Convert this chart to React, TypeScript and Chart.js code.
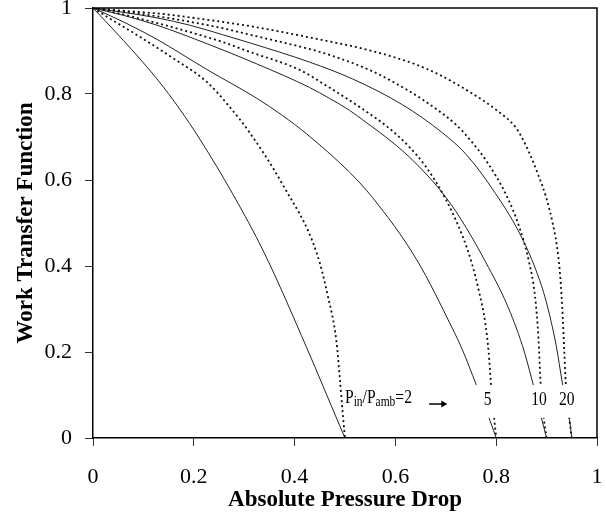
import React, { useEffect, useRef } from "react";
import { Chart, registerables } from "chart.js";

Chart.register(...registerables);

const FONT = "'Liberation Serif', 'Times New Roman', Times, serif";

const xTickValues = [0, 0.2, 0.4, 0.6, 0.8, 1];
const xTickLabels = ["0", "0.2", "0.4", "0.6", "0.8", "1"];
const yTickValues = [0, 0.2, 0.4, 0.6, 0.8, 1];
const yTickLabels = ["0", "0.2", "0.4", "0.6", "0.8", "1"];
const xTitle = "Absolute Pressure Drop";
const yTitle = "Work Transfer Function";
const ratioLabels = ["5", "10", "20"];

// Pin/Pamb = 2
const r2SolidX = [0, 0.06, 0.127, 0.172, 0.212, 0.277, 0.34, 0.424, 0.489, 0.5];
const r2SolidY = [1, 0.925, 0.835, 0.765, 0.695, 0.568, 0.43, 0.21, 0.03, 0];
const r2DotX = [0, 0.034, 0.093, 0.158, 0.226, 0.271, 0.311, 0.376, 0.444, 0.466, 0.483, 0.49, 0.496, 0.5];
const r2DotY = [1, 0.975, 0.933, 0.884, 0.828, 0.77, 0.71, 0.59, 0.43, 0.33, 0.225, 0.135, 0.05, 0];

// Pin/Pamb = 5
const r5SolidX = [0, 0.06, 0.127, 0.226, 0.325, 0.376, 0.423, 0.509, 0.554, 0.642, 0.713, 0.733, 0.76, 0.786, 0.8];
const r5SolidY = [1, 0.968, 0.927, 0.857, 0.79, 0.75, 0.708, 0.618, 0.56, 0.415, 0.255, 0.205, 0.125, 0.046, 0];
const r5DotX = [0, 0.06, 0.127, 0.192, 0.257, 0.311, 0.41, 0.469, 0.535, 0.588, 0.625, 0.661, 0.7, 0.733, 0.752, 0.766, 0.778, 0.785, 0.79, 0.796, 0.8];
const r5DotY = [1, 0.985, 0.965, 0.944, 0.921, 0.898, 0.856, 0.815, 0.765, 0.72, 0.68, 0.63, 0.555, 0.47, 0.405, 0.34, 0.27, 0.2, 0.12, 0.046, 0];

// Pin/Pamb = 10
const r10SolidX = [0, 0.06, 0.127, 0.226, 0.325, 0.43, 0.469, 0.509, 0.535, 0.602, 0.648, 0.7, 0.74, 0.78, 0.82, 0.852, 0.871, 0.889, 0.9];
const r10SolidY = [1, 0.983, 0.96, 0.917, 0.87, 0.815, 0.79, 0.762, 0.74, 0.68, 0.63, 0.56, 0.49, 0.407, 0.314, 0.215, 0.135, 0.05, 0];
const r10DotX = [0, 0.06, 0.158, 0.257, 0.311, 0.444, 0.469, 0.554, 0.634, 0.681, 0.721, 0.747, 0.78, 0.82, 0.846, 0.865, 0.877, 0.884, 0.888, 0.894, 0.9];
const r10DotY = [1, 0.992, 0.975, 0.953, 0.938, 0.9, 0.891, 0.853, 0.802, 0.765, 0.728, 0.695, 0.645, 0.565, 0.49, 0.41, 0.33, 0.23, 0.13, 0.05, 0];

// Pin/Pamb = 20
const r20SolidX = [0, 0.06, 0.127, 0.192, 0.257, 0.311, 0.43, 0.515, 0.614, 0.693, 0.74, 0.792, 0.846, 0.879, 0.899, 0.919, 0.931, 0.945, 0.95];
const r20SolidY = [1, 0.99, 0.977, 0.96, 0.938, 0.919, 0.874, 0.835, 0.775, 0.71, 0.66, 0.58, 0.477, 0.39, 0.318, 0.215, 0.13, 0.046, 0];
const r20DotX = [0, 0.034, 0.139, 0.218, 0.311, 0.444, 0.554, 0.642, 0.687, 0.747, 0.8, 0.84, 0.865, 0.884, 0.899, 0.912, 0.92, 0.926, 0.931, 0.935, 0.938, 0.945, 0.95];
const r20DotY = [1, 0.996, 0.986, 0.974, 0.958, 0.928, 0.9, 0.868, 0.845, 0.805, 0.763, 0.72, 0.665, 0.61, 0.56, 0.5, 0.45, 0.39, 0.305, 0.205, 0.128, 0.046, 0];

const seriesList = [
  { name: "2 solid", xs: r2SolidX, ys: r2SolidY, dotted: false },
  { name: "2 dotted", xs: r2DotX, ys: r2DotY, dotted: true },
  { name: "5 solid", xs: r5SolidX, ys: r5SolidY, dotted: false },
  { name: "5 dotted", xs: r5DotX, ys: r5DotY, dotted: true },
  { name: "10 solid", xs: r10SolidX, ys: r10SolidY, dotted: false },
  { name: "10 dotted", xs: r10DotX, ys: r10DotY, dotted: true },
  { name: "20 solid", xs: r20SolidX, ys: r20SolidY, dotted: false },
  { name: "20 dotted", xs: r20DotX, ys: r20DotY, dotted: true },
];

function drawScaledText(ctx: CanvasRenderingContext2D, text: string, x: number, y: number, font: string, align: CanvasTextAlign) {
  ctx.save();
  ctx.font = font;
  ctx.textAlign = align;
  ctx.textBaseline = "alphabetic";
  ctx.translate(x, y);
  ctx.scale(0.82, 1);
  ctx.fillText(text, 0, 0);
  ctx.restore();
}

const annotationPlugin = {
  id: "annotations",
  afterDatasetsDraw(chart: any) {
    const { ctx, chartArea, scales } = chart;
    const xs = scales.x;
    const ys = scales.y;
    ctx.save();
    // white backing behind the ratio labels
    const bx0 = xs.getPixelForValue(0.757);
    const bx1 = xs.getPixelForValue(0.968);
    const by0 = ys.getPixelForValue(0.123);
    const by1 = ys.getPixelForValue(0.047);
    ctx.fillStyle = "#fff";
    ctx.fillRect(bx0, by0, bx1 - bx0, by1 - by0);

    ctx.fillStyle = "#000";
    const big = `19px ${FONT}`;
    const small = `14px ${FONT}`;
    // P_in/P_amb=2
    let px = xs.getPixelForValue(0.5);
    const pBase = ys.getPixelForValue(0.082);
    const parts: [string, string, number][] = [
      ["P", big, 0],
      ["in", small, 3],
      ["/P", big, 0],
      ["amb", small, 3],
      ["=2", big, 0],
    ];
    for (const [t, f, dy] of parts) {
      drawScaledText(ctx, t, px, pBase + dy, f, "left");
      ctx.font = f;
      px += ctx.measureText(t).width * 0.82;
    }
    // arrow
    const ax0 = xs.getPixelForValue(0.667);
    const ax1 = xs.getPixelForValue(0.703);
    const ay = ys.getPixelForValue(0.079);
    ctx.strokeStyle = "#000";
    ctx.lineWidth = 1.5;
    ctx.beginPath();
    ctx.moveTo(ax0, ay);
    ctx.lineTo(ax1 - 4, ay);
    ctx.stroke();
    ctx.beginPath();
    ctx.moveTo(ax1, ay);
    ctx.lineTo(ax1 - 6, ay - 3.5);
    ctx.lineTo(ax1 - 6, ay + 3.5);
    ctx.closePath();
    ctx.fill();

    // ratio numbers
    const numX = [0.783, 0.885, 0.94];
    const numBase = ys.getPixelForValue(0.077);
    ratioLabels.forEach((t, i) => {
      drawScaledText(ctx, t, xs.getPixelForValue(numX[i]), numBase, big, "center");
    });

    // frame top and right
    ctx.strokeStyle = "#000";
    ctx.lineWidth = 1.5;
    ctx.beginPath();
    ctx.moveTo(chartArea.left, chartArea.top);
    ctx.lineTo(chartArea.right, chartArea.top);
    ctx.lineTo(chartArea.right, chartArea.bottom);
    ctx.stroke();
    ctx.restore();
  },
};

export default function App() {
  const canvasRef = useRef<HTMLCanvasElement | null>(null);

  useEffect(() => {
    document.body.style.margin = "0";
    const canvas = canvasRef.current;
    if (!canvas) return;

    const datasets = seriesList.map((s) => ({
      label: s.name,
      data: s.xs.map((x, i) => ({ x, y: s.ys[i] })),
      showLine: true,
      borderColor: s.dotted ? "#111" : "#222",
      borderWidth: s.dotted ? 1.8 : 1,
      borderDash: s.dotted ? [2, 3] : [],
      pointRadius: 0,
      fill: false,
      cubicInterpolationMode: "monotone",
    }));

    const chart = new Chart(canvas, {
      type: "scatter",
      data: { datasets },
      plugins: [annotationPlugin],
      options: {
        animation: false,
        responsive: false,
        events: [],
        layout: { padding: { left: 0, top: 8, right: 9, bottom: 0 } },
        plugins: {
          legend: { display: false },
          tooltip: { enabled: false },
        },
        scales: {
          x: {
            type: "linear",
            min: 0,
            max: 1,
            afterBuildTicks: (s: any) => {
              s.ticks = xTickValues.map((v) => ({ value: v }));
            },
            afterFit: (s: any) => {
              s.height = 78;
              s.paddingLeft = 0;
              s.paddingRight = 0;
            },
            ticks: {
              callback: (v: any) => {
                const i = xTickValues.indexOf(Number(v));
                return i >= 0 ? xTickLabels[i] : "";
              },
              font: { family: FONT, size: 22 },
              color: "#000",
              padding: 18,
              maxRotation: 0,
              autoSkip: false,
            },
            grid: { drawOnChartArea: false, drawTicks: true, tickLength: 8, color: "#333", lineWidth: 1 },
            border: { display: true, color: "#000", width: 1.5 },
            title: {
              display: true,
              text: xTitle,
              font: { family: FONT, size: 23, weight: "bold" },
              color: "#000",
              padding: { top: 0, bottom: 2 },
            },
          },
          y: {
            type: "linear",
            min: 0,
            max: 1,
            afterBuildTicks: (s: any) => {
              s.ticks = yTickValues.map((v) => ({ value: v }));
            },
            afterFit: (s: any) => {
              s.width = 93;
              s.paddingTop = 0;
              s.paddingBottom = 0;
            },
            ticks: {
              callback: (v: any) => {
                const i = yTickValues.indexOf(Number(v));
                return i >= 0 ? yTickLabels[i] : "";
              },
              font: { family: FONT, size: 22 },
              color: "#000",
              padding: 13,
              autoSkip: false,
            },
            grid: { drawOnChartArea: false, drawTicks: true, tickLength: 8, color: "#333", lineWidth: 1 },
            border: { display: true, color: "#000", width: 1.5 },
            title: {
              display: true,
              text: yTitle,
              font: { family: FONT, size: 23, weight: "bold" },
              color: "#000",
              padding: { top: 12, bottom: 0 },
            },
          },
        },
      } as any,
    });

    return () => {
      chart.destroy();
    };
  }, []);

  return (
    <div style={{ width: 606, height: 516 }}>
      <canvas ref={canvasRef} width={606} height={516} style={{ display: "block" }} />
    </div>
  );
}
